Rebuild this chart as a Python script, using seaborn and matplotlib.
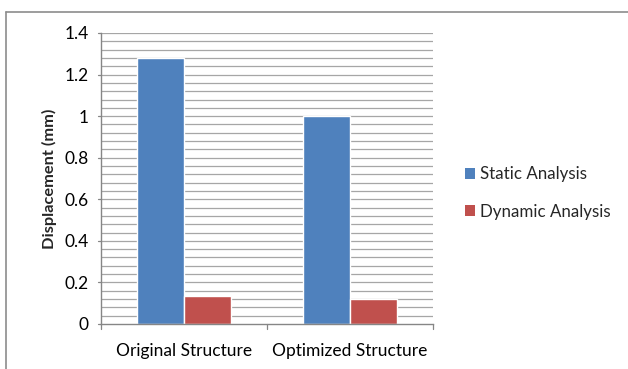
import numpy as np
import pandas as pd
import seaborn as sns
import matplotlib.pyplot as plt
from matplotlib.lines import Line2D
from matplotlib.patches import Patch

# values
structures = ['Original Structure', 'Optimized Structure']
static_vals = [1.28, 1.0]
dynamic_vals = [0.137, 0.12]
series = ['Static Analysis', 'Dynamic Analysis']
colors = ['#4F81BD', '#C0504D']

df = pd.DataFrame({
    'structure': structures * 2,
    'displacement': static_vals + dynamic_vals,
    'analysis': [series[0]] * 2 + [series[1]] * 2,
})

sns.set_style('white')
plt.rcParams['font.family'] = ['Lato', 'DejaVu Sans']

fig = plt.figure(figsize=(6.28, 3.69), dpi=100)
ax = fig.add_axes([0.1608, 0.122, 0.5287, 0.7886])

# excel-ish gridlines every 0.04
for yv in np.arange(0.04, 1.4001, 0.04):
    ax.axhline(yv, color='#a6a6a6', lw=0.9, zorder=0)

sns.barplot(data=df, x='structure', y='displacement', hue='analysis',
            palette=colors, width=0.57, saturation=1, errorbar=None,
            ax=ax, zorder=2)

ax.set_ylim(0, 1.4)
ax.set_xlim(-0.5, 1.5)
ax.set_yticks(np.arange(0, 1.41, 0.2))
ax.set_yticklabels(['0', '0.2', '0.4', '0.6', '0.8', '1', '1.2', '1.4'])
ax.set_xticks([0, 1])
ax.set_xticklabels(structures)
ax.tick_params(axis='both', labelsize=12.5, colors='#000000', length=0, pad=9)
ax.tick_params(axis='x', pad=14)

# tick marks like excel: y at labels, x at category boundaries
for yv in np.arange(0, 1.41, 0.2):
    ax.plot([-0.52, -0.5], [yv, yv], color='#868686', lw=0.9, clip_on=False)
for xv in [-0.5, 0.5, 1.5]:
    ax.plot([xv, xv], [0, -0.025], color='#868686', lw=0.9, clip_on=False)

for s in ['top', 'right']:
    ax.spines[s].set_visible(False)
for s in ['left', 'bottom']:
    ax.spines[s].set_color('#868686')
    ax.spines[s].set_linewidth(1.0)

ax.set_xlabel('')
ax.set_ylabel('Displacement (mm)', fontsize=11.8, fontweight='bold', labelpad=5)

handles = [Patch(facecolor=c, edgecolor='none') for c in colors]
ax.legend(handles, series, loc='center left', bbox_to_anchor=(1.05, 0.45),
          frameon=False, fontsize=12.2, handlelength=0.6, handleheight=0.6,
          handletextpad=0.3, labelspacing=1.25)

# outer chart border (left and top visible)
fig.add_artist(Line2D([6 / 628, 6 / 628], [0, 1 - 12 / 369], color='#8c8c8c', lw=1.2))
fig.add_artist(Line2D([6 / 628, 1], [1 - 12 / 369, 1 - 12 / 369], color='#8c8c8c', lw=1.2))

fig.savefig('out.png', dpi=100)
